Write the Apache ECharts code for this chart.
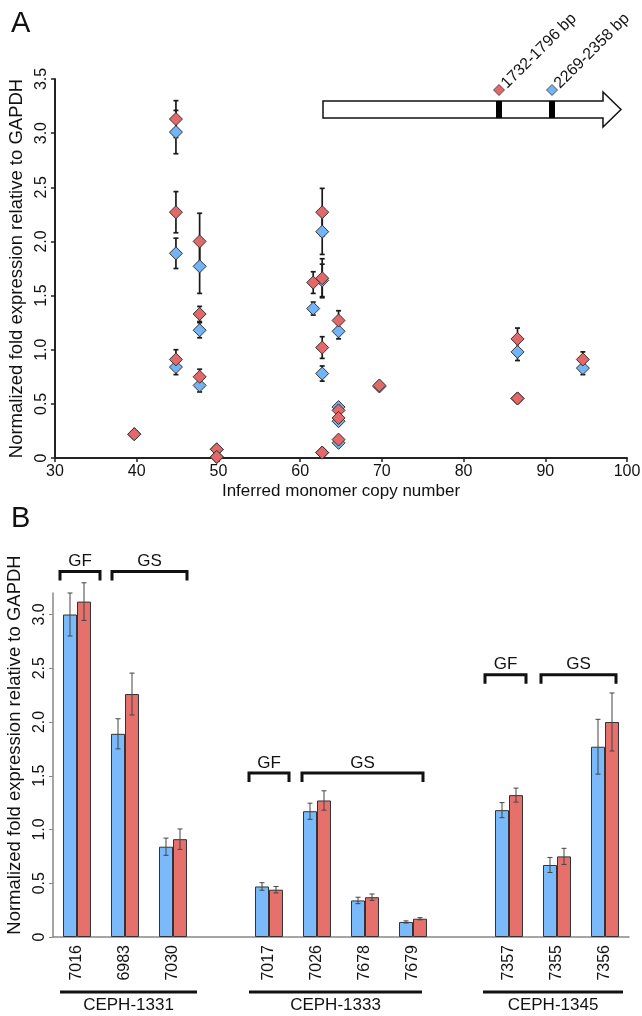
<!DOCTYPE html>
<html>
<head>
<meta charset="utf-8">
<script src="https://cdn.jsdelivr.net/npm/echarts@6/dist/echarts.min.js"></script>
<style>
html, body { margin: 0; padding: 0; background: #fff; }
#chart { width: 642px; height: 1016px; }
</style>
</head>
<body>
<div id="chart"></div>
<script>
// ---- panel A: one entry per sample ----
const copyNumber = [39.7, 44.8, 44.8, 44.8, 47.7, 47.7, 47.7, 49.8, 49.8, 61.6, 62.7, 62.7, 62.7, 62.7,
                    64.7, 64.7, 64.7, 64.7, 69.7, 86.6, 86.6, 94.6];
const blueFold = [0.22, 3.01, 1.89, 0.84, 1.77, 1.18, 0.67, 0.08, 0.01, 1.38, 2.09, 1.64, 0.78, 0.05,
                  0.47, 1.17, 0.34, 0.14, 0.66, 0.98, 0.55, 0.83];
const blueErr  = [0, 0.20, 0.14, 0.07, 0.25, 0.07, 0.06, 0, 0, 0.06, 0.21, 0.15, 0.07, 0,
                  0.03, 0.07, 0.03, 0.01, 0.02, 0.08, 0, 0.06];
const redFold  = [0.22, 3.13, 2.27, 0.91, 2.00, 1.33, 0.75, 0.08, 0.01, 1.62, 2.27, 1.66, 1.02, 0.05,
                  0.44, 1.27, 0.37, 0.17, 0.67, 1.10, 0.55, 0.91];
const redErr   = [0, 0.17, 0.19, 0.09, 0.26, 0.07, 0.07, 0, 0, 0.10, 0.22, 0.18, 0.10, 0,
                  0.03, 0.09, 0.03, 0.01, 0.02, 0.10, 0.01, 0.07];

// ---- panel B ----
const sampleIds  = ['7016', '6983', '7030', ' ', '7017', '7026', '7678', '7679', '  ', '7357', '7355', '7356'];
const blueBar    = [3.00, 1.89, 0.84, null, 0.47, 1.17, 0.34, 0.14, null, 1.18, 0.67, 1.77];
const blueBarErr = [0.20, 0.14, 0.08, null, 0.035, 0.075, 0.03, 0.01, null, 0.07, 0.07, 0.255];
const redBar     = [3.12, 2.26, 0.91, null, 0.44, 1.27, 0.37, 0.17, null, 1.32, 0.75, 2.00];
const redBarErr  = [0.175, 0.195, 0.095, null, 0.03, 0.09, 0.03, 0.01, null, 0.065, 0.075, 0.27];

const families = [
  { name: 'CEPH-1331', from: 0, to: 2 },
  { name: 'CEPH-1333', from: 4, to: 7 },
  { name: 'CEPH-1345', from: 9, to: 11 }
];
const groups = [
  { text: 'GF', from: 0, to: 0, level: 3.40 },
  { text: 'GS', from: 1, to: 2, level: 3.40 },
  { text: 'GF', from: 4, to: 4, level: 1.525 },
  { text: 'GS', from: 5, to: 7, level: 1.525 },
  { text: 'GF', from: 9, to: 9, level: 2.44 },
  { text: 'GS', from: 10, to: 11, level: 2.44 }
];

const FONT = 'Liberation Sans, Arial, sans-serif';
const BLUE = '#72b4f4';
const RED = '#e3686a';
const BLUE_BAR = '#7abafa';
const RED_BAR = '#e6706c';
const yTitle = 'Normalized fold expression relative to GAPDH';

const chart = echarts.init(document.getElementById('chart'));

function fmt(v) { return v === 0 ? '0' : v.toFixed(1); }

// error bars for the scatter (value axes)
function scatterErr(params, api) {
  const x = api.value(0), y = api.value(1), e = api.value(2);
  if (!e) return null;
  const top = api.coord([x, y + e]);
  const bot = api.coord([x, y - e]);
  const cap = 2.5;
  const style = { stroke: '#1a1a1a', lineWidth: 1.7 };
  return {
    type: 'group',
    children: [
      { type: 'line', shape: { x1: top[0], y1: top[1], x2: bot[0], y2: bot[1] }, style: style },
      { type: 'line', shape: { x1: top[0] - cap, y1: top[1], x2: top[0] + cap, y2: top[1] }, style: style },
      { type: 'line', shape: { x1: bot[0] - cap, y1: bot[1], x2: bot[0] + cap, y2: bot[1] }, style: style }
    ]
  };
}

// error bars for the bars (category axis, shifted to each bar)
const BAR_W = 14;
function barErr(side) {
  return function (params, api) {
    const v = api.value(1), e = api.value(2);
    if (v == null || isNaN(v) || !e) return null;
    const top = api.coord([api.value(0), v + e]);
    const bot = api.coord([api.value(0), v - e]);
    const x = top[0] + side * BAR_W / 2;
    const cap = 2.5;
    const style = { stroke: '#444', lineWidth: 1 };
    return {
      type: 'group',
      children: [
        { type: 'line', shape: { x1: x, y1: top[1], x2: x, y2: bot[1] }, style: style },
        { type: 'line', shape: { x1: x - cap, y1: top[1], x2: x + cap, y2: top[1] }, style: style },
        { type: 'line', shape: { x1: x - cap, y1: bot[1], x2: x + cap, y2: bot[1] }, style: style }
      ]
    };
  };
}

const option = {
  animation: false,
  textStyle: { fontFamily: FONT },
  grid: [
    { left: 55, top: 79, width: 572, height: 379, outerBoundsMode: 'none', containLabel: false },
    { left: 53, top: 593, width: 576, height: 344, outerBoundsMode: 'none', containLabel: false }
  ],
  xAxis: [
    {
      gridIndex: 0, type: 'value', min: 30, max: 100, interval: 10,
      name: 'Inferred monomer copy number', nameLocation: 'middle', nameGap: 25,
      nameTextStyle: { fontSize: 17, color: '#111', fontFamily: FONT },
      axisLine: { lineStyle: { color: '#222', width: 2 } },
      axisTick: { length: 4, lineStyle: { color: '#222', width: 1.5 } },
      axisLabel: { fontSize: 16, color: '#111', margin: 6, fontFamily: FONT },
      splitLine: { show: false }
    },
    {
      gridIndex: 1, type: 'category', data: sampleIds, boundaryGap: true,
      axisLine: { lineStyle: { color: '#888', width: 1.5 } },
      axisTick: { interval: 0, length: 4, lineStyle: { color: '#888' } },
      axisLabel: { interval: 0, rotate: 90, fontSize: 16, color: '#111', margin: 8, fontFamily: FONT },
      splitLine: { show: false }
    }
  ],
  yAxis: [
    {
      gridIndex: 0, type: 'value', min: 0, max: 3.5, interval: 0.5,
      name: yTitle, nameLocation: 'middle', nameGap: 24,
      nameTextStyle: { fontSize: 18.5, color: '#111', fontFamily: FONT },
      axisLine: { show: true, lineStyle: { color: '#222', width: 2 } },
      axisTick: { show: true, length: 4, lineStyle: { color: '#222', width: 1.5 } },
      axisLabel: { rotate: 90, fontSize: 16, color: '#111', margin: 5, formatter: fmt, fontFamily: FONT },
      splitLine: { show: false }
    },
    {
      gridIndex: 1, type: 'value', min: 0, max: 3.2, interval: 0.5,
      name: yTitle, nameLocation: 'middle', nameGap: 23,
      nameTextStyle: { fontSize: 18.5, color: '#111', fontFamily: FONT, padding: [0, 0, 0, 40] },
      axisLine: { show: true, lineStyle: { color: '#888', width: 1.5 } },
      axisTick: { show: true, length: 4, lineStyle: { color: '#888' } },
      axisLabel: { rotate: 90, fontSize: 16, color: '#111', margin: 5, formatter: fmt, showMaxLabel: false, fontFamily: FONT },
      splitLine: { show: false }
    }
  ],
  series: [
    {
      type: 'custom', xAxisIndex: 0, yAxisIndex: 0, z: 1,
      renderItem: scatterErr, encode: { x: 0, y: 1 },
      data: copyNumber.map((c, i) => [c, blueFold[i], blueErr[i]])
    },
    {
      type: 'custom', xAxisIndex: 0, yAxisIndex: 0, z: 1,
      renderItem: scatterErr, encode: { x: 0, y: 1 },
      data: copyNumber.map((c, i) => [c, redFold[i], redErr[i]])
    },
    {
      name: '2269-2358 bp', type: 'scatter', xAxisIndex: 0, yAxisIndex: 0, z: 3,
      symbol: 'diamond', symbolSize: 13,
      itemStyle: { color: BLUE, borderColor: '#333', borderWidth: 1, opacity: 1 },
      data: copyNumber.map((c, i) => [c, blueFold[i]])
    },
    {
      name: '1732-1796 bp', type: 'scatter', xAxisIndex: 0, yAxisIndex: 0, z: 4,
      symbol: 'diamond', symbolSize: 13,
      itemStyle: { color: RED, borderColor: '#333', borderWidth: 1, opacity: 1 },
      data: copyNumber.map((c, i) => [c, redFold[i]])
    },
    {
      type: 'bar', xAxisIndex: 1, yAxisIndex: 1, z: 2,
      barWidth: BAR_W, barGap: '0%',
      itemStyle: { color: BLUE_BAR, borderColor: '#333', borderWidth: 1 },
      data: blueBar
    },
    {
      type: 'bar', xAxisIndex: 1, yAxisIndex: 1, z: 2,
      barWidth: BAR_W, barGap: '0%',
      itemStyle: { color: RED_BAR, borderColor: '#333', borderWidth: 1 },
      data: redBar
    },
    {
      type: 'custom', xAxisIndex: 1, yAxisIndex: 1, z: 5,
      renderItem: barErr(-1), encode: { x: 0, y: 1 },
      data: sampleIds.map((s, i) => [i, blueBar[i], blueBarErr[i]])
    },
    {
      type: 'custom', xAxisIndex: 1, yAxisIndex: 1, z: 5,
      renderItem: barErr(1), encode: { x: 0, y: 1 },
      data: sampleIds.map((s, i) => [i, redBar[i], redBarErr[i]])
    }
  ]
};
chart.setOption(option);

// ---- annotations ----
const gfx = [];
gfx.push({ type: 'text', left: 11, top: 9, style: { text: 'A', font: '29px ' + FONT, fill: '#111' } });
gfx.push({ type: 'text', left: 11, top: 504, style: { text: 'B', font: '29px ' + FONT, fill: '#111' } });

// gene arrow legend in panel A
gfx.push({
  type: 'polygon', z: 10,
  shape: { points: [[323, 101], [603, 101], [603, 92], [621, 109.5], [603, 127], [603, 118], [323, 118]] },
  style: { fill: '#fff', stroke: '#111', lineWidth: 1.5 }
});
gfx.push({ type: 'rect', z: 11, shape: { x: 496, y: 101, width: 6, height: 17 }, style: { fill: '#000' } });
gfx.push({ type: 'rect', z: 11, shape: { x: 549, y: 101, width: 6, height: 17 }, style: { fill: '#000' } });
[[499, RED, '1732-1796 bp'], [552, BLUE, '2269-2358 bp']].forEach(function (d) {
  gfx.push({
    type: 'polygon', z: 11,
    shape: { points: [[d[0], 84.5], [d[0] + 5.5, 90], [d[0], 95.5], [d[0] - 5.5, 90]] },
    style: { fill: d[1], stroke: '#333', lineWidth: 0.8 }
  });
  gfx.push({
    type: 'text', z: 11, x: d[0] + 5, y: 86, rotation: Math.PI / 4,
    style: { text: d[2], font: '16px ' + FONT, fill: '#111', align: 'left', verticalAlign: 'middle' }
  });
});

// GF / GS brackets in panel B
const pads = [[-17, 23], [-13, 14], [-20, 20], [-15, 10], [-24, 17], [-16, 11]];
groups.forEach(function (g, k) {
  const p1 = chart.convertToPixel({ gridIndex: 1 }, [g.from, g.level]);
  const p2 = chart.convertToPixel({ gridIndex: 1 }, [g.to, g.level]);
  const x1 = p1[0] + pads[k][0], x2 = p2[0] + pads[k][1], y = p1[1];
  gfx.push({
    type: 'polyline', z: 10,
    shape: { points: [[x1, y + 9], [x1, y], [x2, y], [x2, y + 9]] },
    style: { stroke: '#111', lineWidth: 3, fill: null }
  });
  gfx.push({
    type: 'text', z: 10, x: (x1 + x2) / 2, y: y - 10,
    style: { text: g.text, font: '17px ' + FONT, fill: '#111', align: 'center', verticalAlign: 'middle' }
  });
});

// family underlines
const famPads = [[-17, 24], [-20, 9], [-26, 18]];
families.forEach(function (f, k) {
  const a = chart.convertToPixel({ gridIndex: 1 }, [f.from, 0]);
  const b = chart.convertToPixel({ gridIndex: 1 }, [f.to, 0]);
  const x1 = a[0] + famPads[k][0], x2 = b[0] + famPads[k][1];
  gfx.push({
    type: 'line', z: 10,
    shape: { x1: x1, y1: 992, x2: x2, y2: 992 },
    style: { stroke: '#111', lineWidth: 3 }
  });
  gfx.push({
    type: 'text', z: 10, x: (x1 + x2) / 2, y: 1005,
    style: { text: f.name, font: '17px ' + FONT, fill: '#111', align: 'center', verticalAlign: 'middle' }
  });
});

chart.setOption({ graphic: gfx });
</script>
</body>
</html>
